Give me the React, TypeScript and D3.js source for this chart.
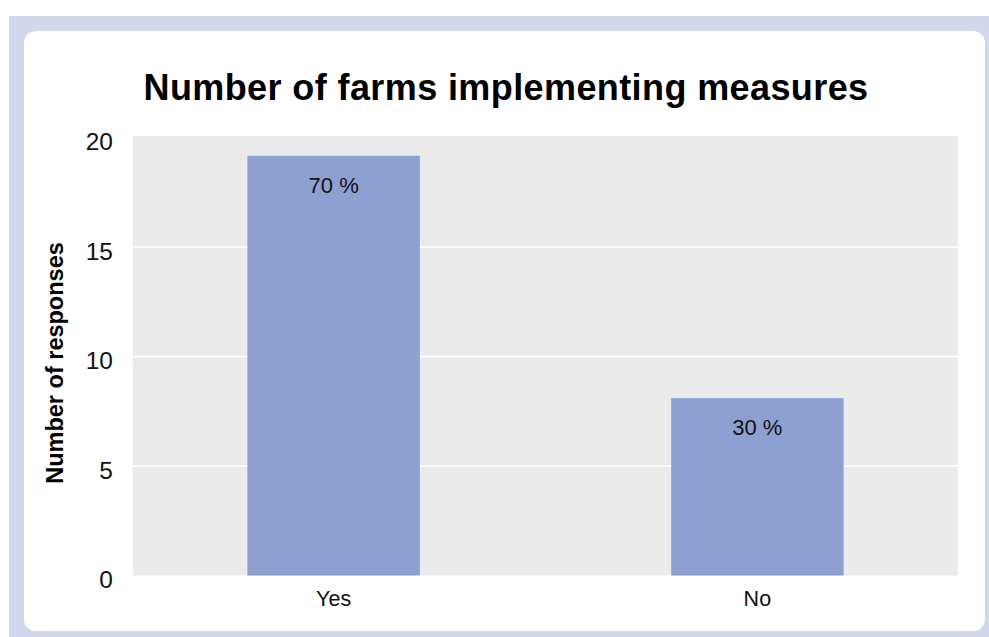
import React from "react";
import * as d3 from "d3";

const categories = ["Yes", "No"];
const responses = [19.17, 8.1];
const percentLabels = ["70 %", "30 %"];
const yTicks = [0, 5, 10, 15, 20];

const W = 989;
const H = 637;
const plot = { left: 133, right: 958, top: 136, bottom: 575.5 };

export default function App() {
  const x = d3
    .scaleBand<string>()
    .domain(categories)
    .range([plot.left, plot.right])
    .paddingInner(0.593)
    .paddingOuter(0.27);
  const y = d3.scaleLinear().domain([0, 20.07]).range([plot.bottom, plot.top]);
  const font = "'Liberation Sans', Arial, sans-serif";
  const card = { x: 24, y: 31, w: 961, h: 600 };
  return (
    <svg
      width={W}
      height={H}
      style={{ position: "absolute", left: 0, top: 0, display: "block" }}
      fontFamily={font}
    >
      <rect x={0} y={0} width={W} height={H} fill="#ffffff" />
      <rect x={9} y={16} width={W - 9} height={H - 16} fill="#d3d7ed" />
      <rect x={card.x} y={card.y} width={card.w} height={card.h} rx={12} ry={12} fill="#ffffff" />
      <text x={506} y={100} textAnchor="middle" fontSize={36} letterSpacing={0.4} fontWeight="bold" fill="#000">
        Number of farms implementing measures
      </text>
      <rect
        x={plot.left}
        y={plot.top}
        width={plot.right - plot.left}
        height={plot.bottom - plot.top}
        fill="#ebebeb"
      />
      {yTicks.filter((t) => t > 0 && t < 20).map((t) => (
        <line
          key={t}
          x1={plot.left}
          x2={plot.right}
          y1={y(t)}
          y2={y(t)}
          stroke="#ffffff"
          strokeWidth={1.5}
        />
      ))}
      {yTicks.map((t) => (
        <text key={t} x={113} y={y(t) + 12.5} textAnchor="end" fontSize={24.5} fill="#111">
          {t}
        </text>
      ))}
      {categories.map((c, i) => (
        <g key={c}>
          <rect
            x={x(c)}
            y={y(responses[i])}
            width={x.bandwidth()}
            height={y(0) - y(responses[i])}
            fill="#8e9fd1"
          />
          <text
            x={(x(c) as number) + x.bandwidth() / 2}
            y={y(responses[i]) + 37}
            textAnchor="middle"
            fontSize={22}
            fill="#111"
          >
            {percentLabels[i]}
          </text>
          <text
            x={(x(c) as number) + x.bandwidth() / 2}
            y={605.5}
            textAnchor="middle"
            fontSize={21.5}
            fill="#111"
          >
            {c}
          </text>
        </g>
      ))}
      <text
        transform={`translate(63, 363) rotate(-90)`}
        textAnchor="middle"
        fontSize={23.5}
        fontWeight="bold"
        fill="#000"
      >
        Number of responses
      </text>
    </svg>
  );
}
